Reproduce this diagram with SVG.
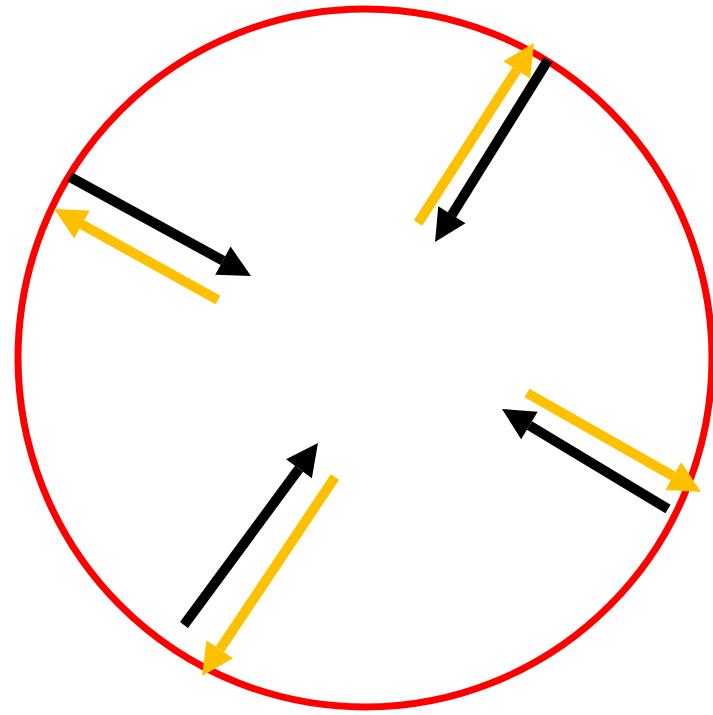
<svg xmlns="http://www.w3.org/2000/svg" width="713" height="715" viewBox="0 0 713 715">
<defs>
<marker id="hb" markerUnits="userSpaceOnUse" markerWidth="36" markerHeight="36" viewBox="0 -18 36 36" refX="0" refY="0" orient="auto" overflow="visible"><path d="M0,-16 L32,0 L0,16 Z" fill="#000"/></marker>
<marker id="hy" markerUnits="userSpaceOnUse" markerWidth="36" markerHeight="36" viewBox="0 -18 36 36" refX="0" refY="0" orient="auto" overflow="visible"><path d="M0,-16 L32,0 L0,16 Z" fill="#FFC000"/></marker>
<style>
.b{stroke:#000;stroke-width:10;fill:none;marker-end:url(#hb)}
.y{stroke:#FFC000;stroke-width:10;fill:none;marker-end:url(#hy)}
</style>
</defs>
<rect width="713" height="715" fill="#fff"/>
<g id="ring"><ellipse cx="365" cy="358" rx="347" ry="349" fill="none" stroke="#FF0000" stroke-width="7"/></g>
<g id="connectors">
<line class="y" x1="418" y1="223" x2="516.7" y2="69.9"/>
<line class="b" x1="548" y1="60" x2="451.9" y2="214.8"/>
<line class="b" x1="70" y1="177" x2="222.9" y2="260.6"/>
<line class="y" x1="218" y1="300" x2="82" y2="224.5"/>
<line class="y" x1="527" y1="393" x2="673.2" y2="476.2"/>
<line class="b" x1="668" y1="509" x2="529.4" y2="425.5"/>
<line class="b" x1="184" y1="625" x2="299" y2="468.8"/>
<line class="y" x1="335" y1="477" x2="219.8" y2="649.4"/>
</g>
</svg>
